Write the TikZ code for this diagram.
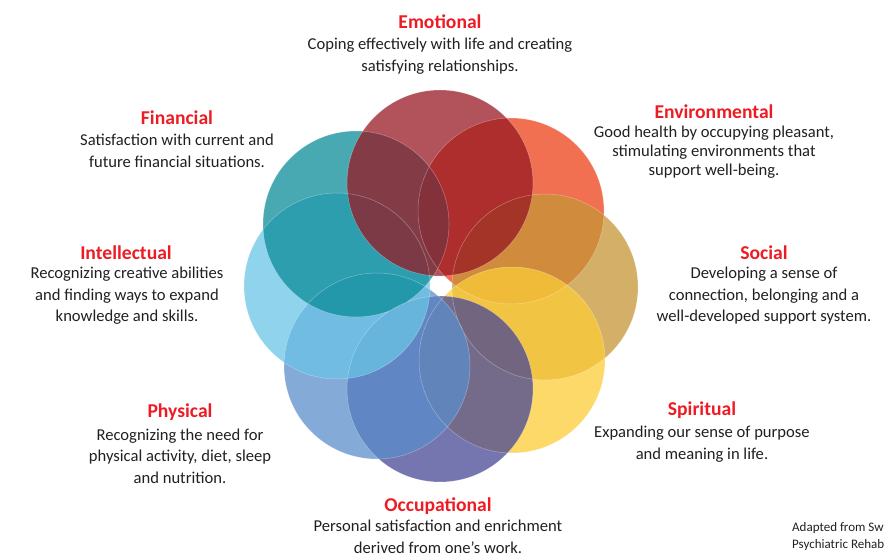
\documentclass[tikz,border=0pt]{standalone}
\usepackage{fontspec}
\setmainfont{Carlito}
\usetikzlibrary{positioning}

\definecolor{headred}{RGB}{237,28,36}
\definecolor{bodygray}{RGB}{35,31,32}
\definecolor{emocol}{RGB}{152,24,35}
\definecolor{envcol}{RGB}{237,64,24}
\definecolor{soccol}{RGB}{197,148,53}
\definecolor{spicol}{RGB}{252,204,56}
\definecolor{occcol}{RGB}{71,71,149}
\definecolor{phycol}{RGB}{91,141,203}
\definecolor{intcol}{RGB}{106,196,230}
\definecolor{fincol}{RGB}{12,140,154}

\begin{document}
\begin{tikzpicture}[x=1pt,y=-1pt,
    petal/.style={fill=#1,fill opacity=0.75},
    rim/.style={draw=white,draw opacity=0.35,line width=0.5pt},
    title/.style={text=headred,inner sep=0pt,font=\fontsize{19.6}{22}\selectfont\bfseries},
    blurb/.style={text=bodygray,inner sep=0pt,align=center,font=\fontsize{16.6}{21.5}\selectfont},
    credit/.style={text=bodygray,inner sep=0pt,anchor=west,font=\fontsize{13}{14}\selectfont}]
    \useasboundingbox (0,0) rectangle (885,556);
    \clip (0,0) rectangle (885,556);

    \coordinate (Emo) at (440,183);
    \coordinate (Env) at (511,211);
    \coordinate (Soc) at (545,287);
    \coordinate (Spi) at (512,360);
    \coordinate (Occ) at (440,389);
    \coordinate (Phy) at (377,366);
    \coordinate (Int) at (337,286);
    \coordinate (Fin) at (356,224);

    % petals, bottom one first
    \fill[petal=envcol] (Env) circle (93);
    \fill[petal=soccol] (Soc) circle (93);
    \fill[petal=spicol] (Spi) circle (93);
    \fill[petal=occcol] (Occ) circle (93);
    \fill[petal=phycol] (Phy) circle (93);
    \fill[petal=intcol] (Int) circle (93);
    \fill[petal=fincol] (Fin) circle (93);
    \fill[petal=emocol] (Emo) circle (93);

    \draw[rim] (Env) circle (93) (Soc) circle (93) (Spi) circle (93)
        (Occ) circle (93) (Phy) circle (93) (Int) circle (93)
        (Fin) circle (93) (Emo) circle (93);

    % labels
    \node[title] (emoT) at (440,22) {Emotional};
    \node[blurb] (emoB) at (440,56) {Coping effectively with life and creating\\satisfying relationships.};

    \node[title] (envT) at (714,112) {Environmental};
    \node[blurb,font=\fontsize{16.6}{19}\selectfont] (envB) at (714,152) {Good health by occupying pleasant,\\stimulating environments that\\support well-being.};

    \node[title] (socT) at (764,253) {Social};
    \node[blurb] (socB) at (764,296) {Developing a sense of\\connection, belonging and a\\well-developed support system.};

    \node[title] (spiT) at (702,410) {Spiritual};
    \node[blurb] (spiB) at (702,444) {Expanding our sense of purpose\\and meaning in life.};

    \node[title] (occT) at (438,506) {Occupational};
    \node[blurb] (occB) at (438,537) {Personal satisfaction and enrichment\\derived from one’s work.};

    \node[title] (phyT) at (180,412) {Physical};
    \node[blurb] (phyB) at (180,456) {Recognizing the need for\\physical activity, diet, sleep\\and nutrition.};

    \node[title] (intT) at (126,253) {Intellectual};
    \node[blurb] (intB) at (127,296) {Recognizing creative abilities\\and finding ways to expand\\knowledge and skills.};

    \node[title] (finT) at (177,118) {Financial};
    \node[blurb] (finB) at (177,151) {Satisfaction with current and\\future financial situations.};

    \node[credit] (cred1) at (792,528) {Adapted from Sw};
    \node[credit] (cred2) at (792,545) {Psychiatric Rehab};
\end{tikzpicture}
\end{document}
